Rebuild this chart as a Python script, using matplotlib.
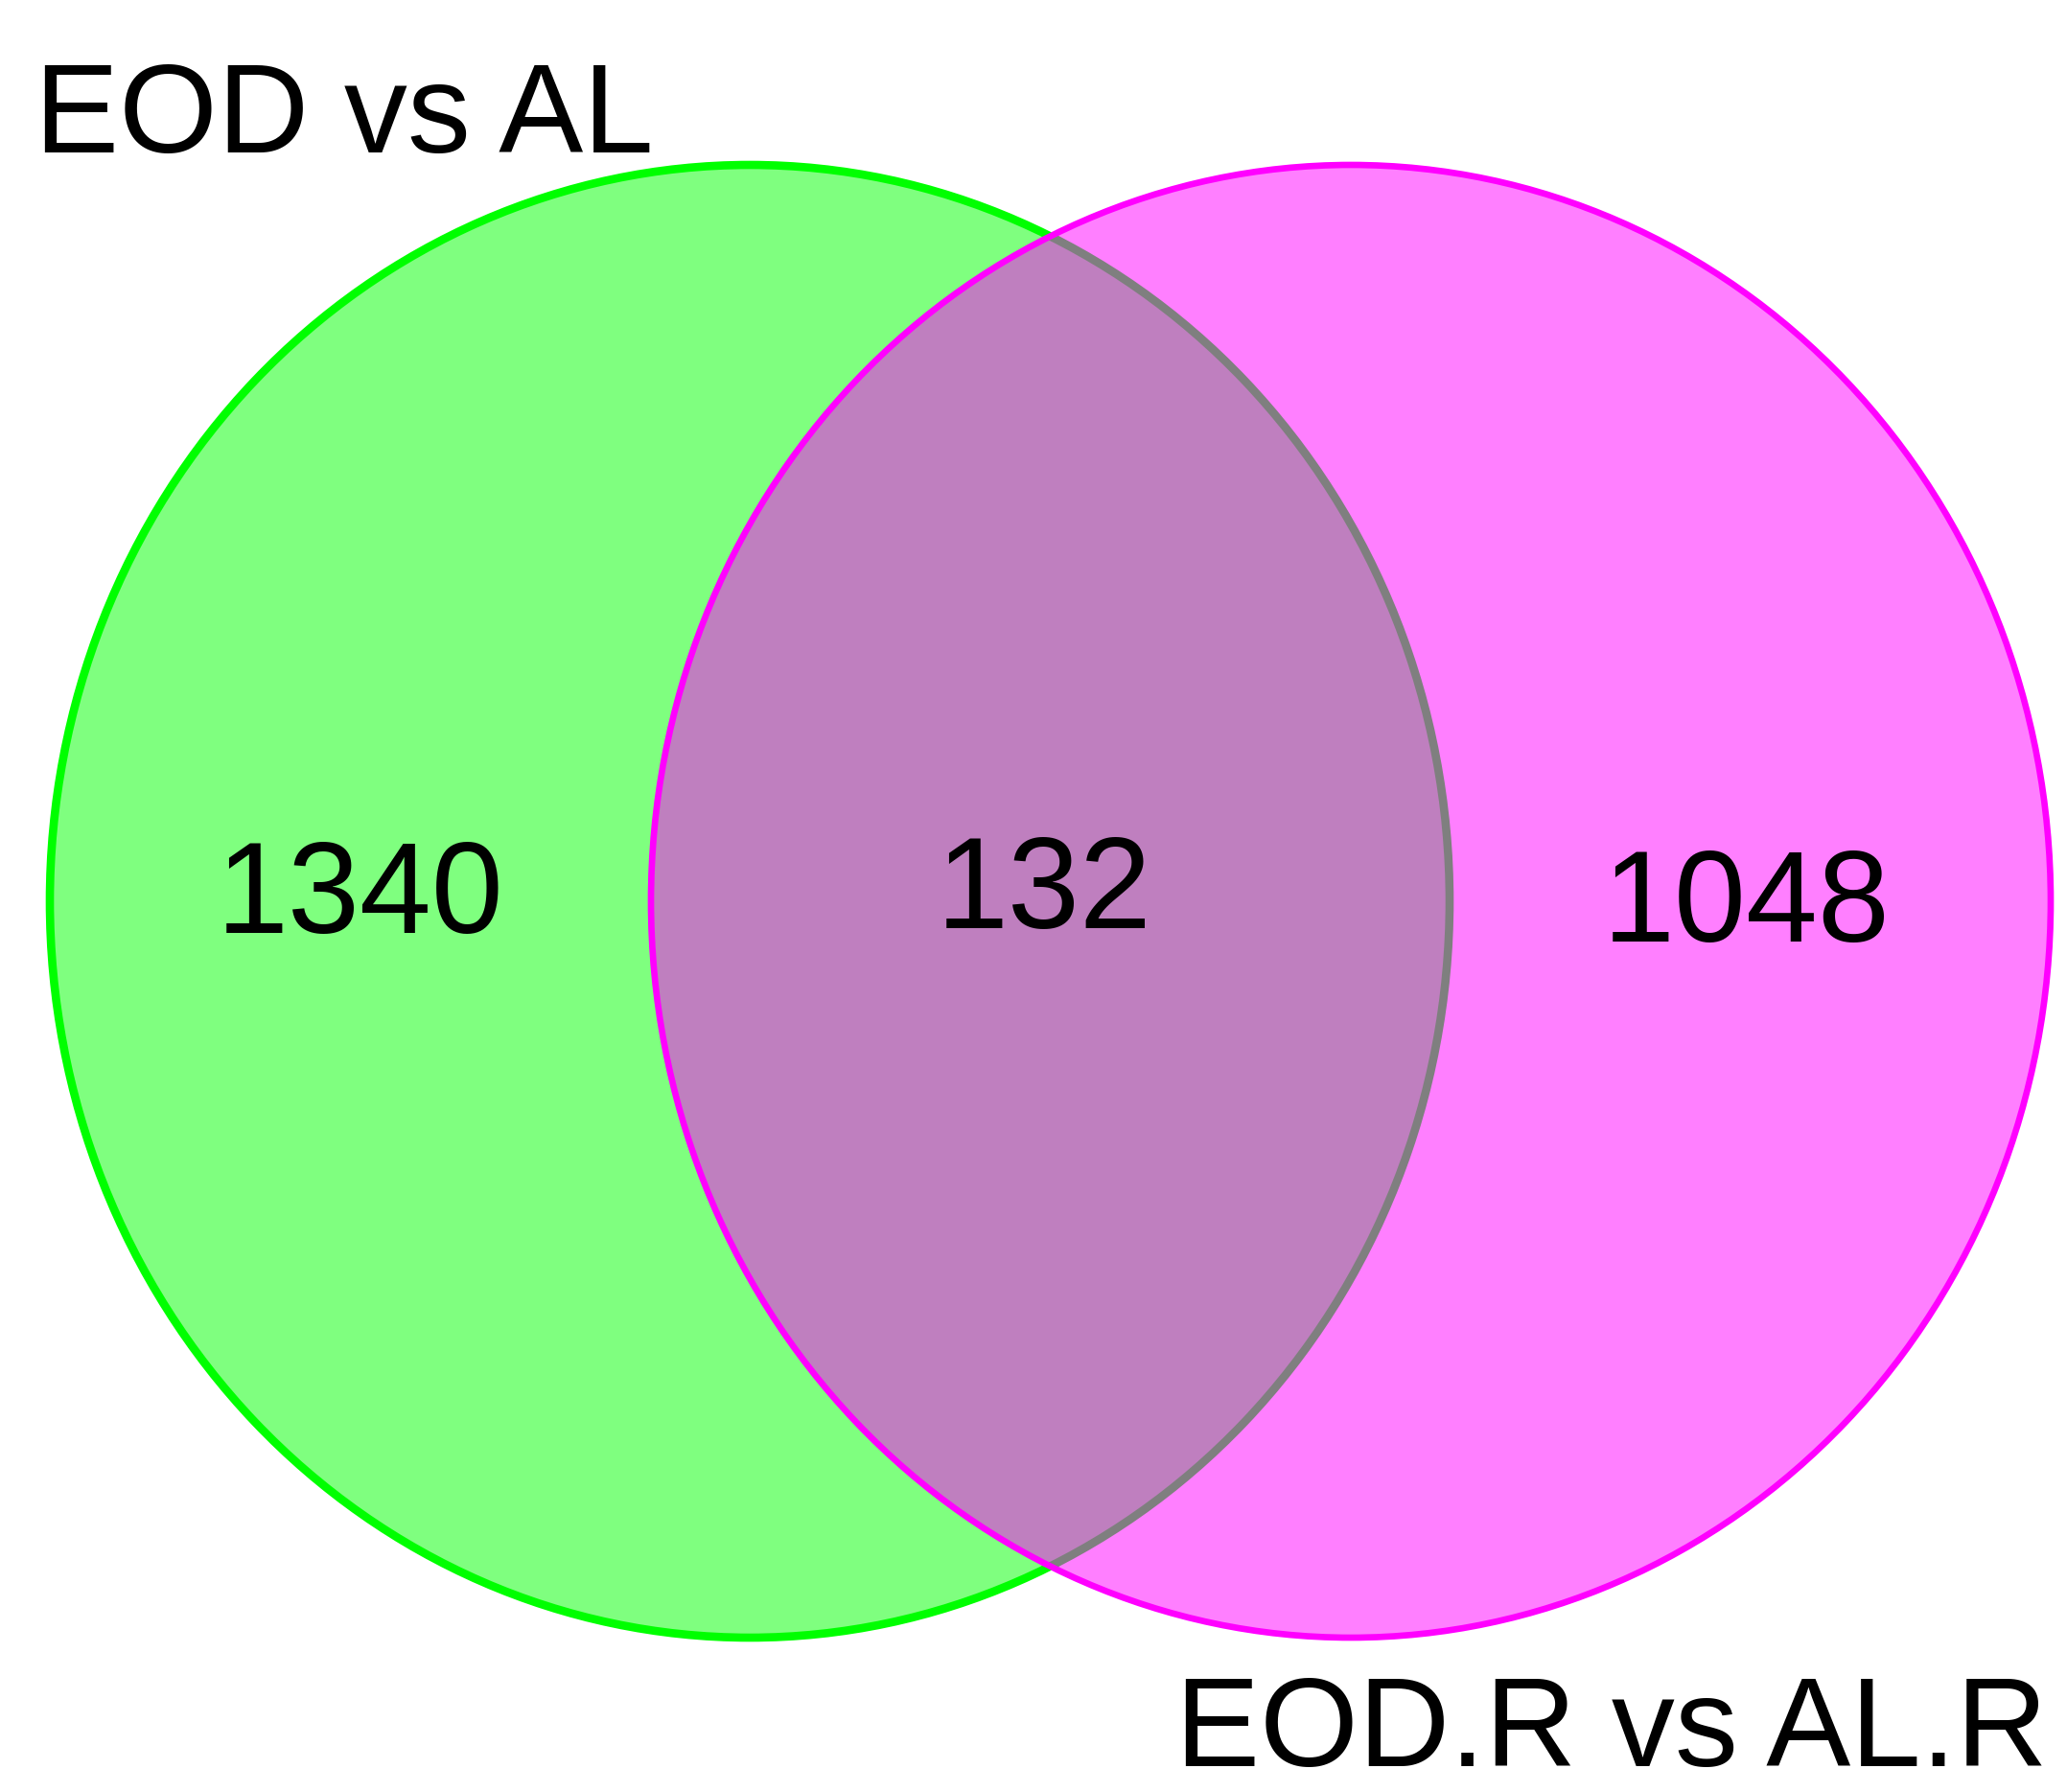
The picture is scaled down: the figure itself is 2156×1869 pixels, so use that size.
import matplotlib
matplotlib.use("Agg")
import matplotlib.pyplot as plt
from matplotlib.patches import Ellipse

# set names and counts
set_names = ["EOD vs AL", "EOD.R vs AL.R"]
only_counts = [1340, 1048]
shared_count = 132
set_colors = ["#00ff00", "#ff00ff"]

W, H = 2156, 1869
fig = plt.figure(figsize=(W / 100, H / 100), dpi=100)
ax = fig.add_axes([0, 0, 1, 1])
ax.set_xlim(0, W)
ax.set_ylim(H, 0)
ax.axis("off")

plt.rcParams['font.family'] = ['Liberation Sans', 'DejaVu Sans']

# circle layout (pixels), slightly taller than wide like the original
centers = [(782, 940), (1409, 940)]
width, height = 1460, 1536
edge_w = [6.2, 4.8]

for (cx, cy), col, lw in zip(centers, set_colors, edge_w):
    ax.add_patch(Ellipse((cx, cy), width, height, facecolor=col, alpha=0.5,
                         edgecolor="none"))
    ax.add_patch(Ellipse((cx, cy), width, height, facecolor="none",
                         edgecolor=col, linewidth=lw))

# region counts
ax.text(376, 973, str(only_counts[0]), fontsize=97, ha="center", va="baseline")
ax.text(1089, 968, str(shared_count), fontsize=97, ha="center", va="baseline")
ax.text(1822, 982, str(only_counts[1]), fontsize=97, ha="center", va="baseline")

# set titles
ax.text(36, 159, set_names[0], fontsize=95, ha="left", va="baseline")
ax.text(1226, 1842, set_names[1], fontsize=95, ha="left", va="baseline")

fig.savefig("out.png", dpi=100, facecolor="white")
